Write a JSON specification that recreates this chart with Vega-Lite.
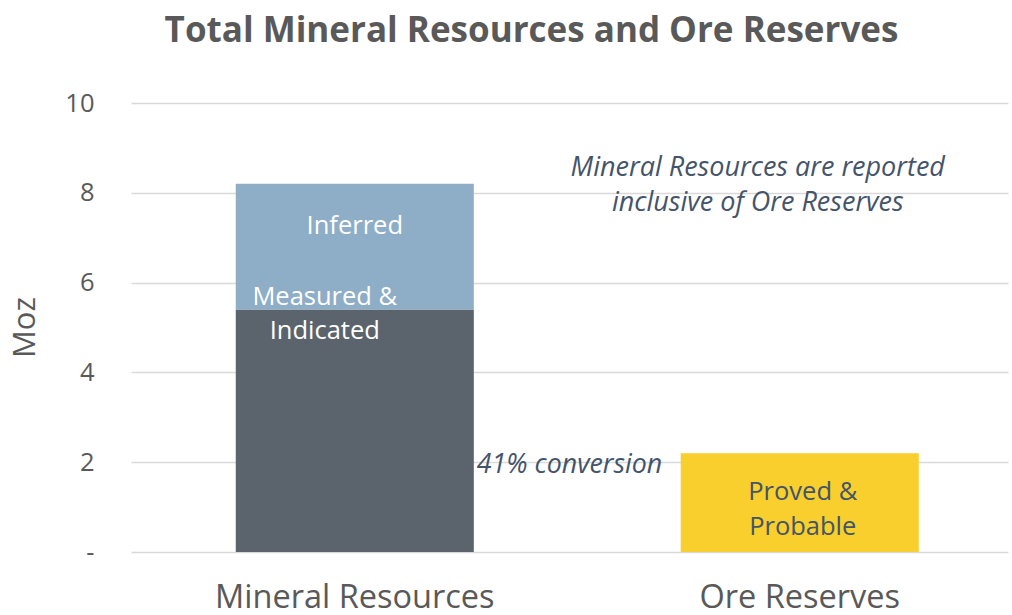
{
  "$schema": "https://vega.github.io/schema/vega-lite/v6.json",
  "width": 877,
  "height": 449,
  "autosize": "none",
  "padding": {"left": 131, "top": 103, "right": 4, "bottom": 63},
  "background": "white",
  "title": {
    "text": "Total Mineral Resources and Ore Reserves",
    "font": "Open Sans",
    "fontSize": 35,
    "fontWeight": "bold",
    "color": "#595959",
    "anchor": "middle",
    "dx": -38,
    "offset": 42
  },
  "config": {
    "view": {"stroke": null},
    "font": "Open Sans"
  },
  "datasets": {
    "bars": [
      {"category": "Mineral Resources", "segment": "Measured & Indicated", "start": 0, "end": 5.4},
      {"category": "Mineral Resources", "segment": "Inferred", "start": 5.4, "end": 8.2},
      {"category": "Ore Reserves", "segment": "Proved & Probable", "start": 0, "end": 2.2}
    ]
  },
  "encoding": {
    "x": {
      "field": "category",
      "type": "nominal",
      "sort": ["Mineral Resources", "Ore Reserves"],
      "scale": {"paddingInner": 0.465, "paddingOuter": 0.218, "align": 0.54},
      "axis": {
        "title": null,
        "labelAngle": 0,
        "labelFont": "Open Sans",
        "labelFontSize": 32.5,
        "labelColor": "#595959",
        "labelPadding": 29,
        "labelLimit": 0,
        "ticks": false,
        "domain": false,
        "grid": false
      }
    }
  },
  "layer": [
    {
      "data": {"name": "bars"},
      "mark": {"type": "bar"},
      "encoding": {
        "y": {
          "field": "start",
          "type": "quantitative",
          "scale": {"domain": [0, 10], "nice": false},
          "axis": {
            "values": [0, 2, 4, 6, 8, 10],
            "labelExpr": "datum.value == 0 ? '-' : datum.label",
            "labelFont": "Open Sans",
            "labelFontSize": 25.5,
            "labelColor": "#595959",
            "labelPadding": 37,
            "ticks": false,
            "domain": false,
            "grid": true,
            "gridColor": "#D9D9D9",
            "gridWidth": 1.5,
            "title": "Moz",
            "titleFont": "Open Sans",
            "titleFontSize": 31,
            "titleFontWeight": "normal",
            "titleColor": "#595959",
            "titleAngle": -90,
            "titleAlign": "center",
            "titleBaseline": "middle",
            "titleX": -106,
            "titleY": 224
          }
        },
        "y2": {"field": "end"},
        "color": {
          "field": "segment",
          "type": "nominal",
          "scale": {
            "domain": ["Measured & Indicated", "Inferred", "Proved & Probable"],
            "range": ["#5B646C", "#8EADC6", "#F8CF2C"]
          },
          "legend": null
        }
      }
    },
    {
      "data": {"values": [{"category": "Mineral Resources", "y": 7.26, "label": "Inferred"}]},
      "mark": {"type": "text", "font": "Open Sans", "fontSize": 25.5, "color": "white", "baseline": "middle"},
      "encoding": {
        "y": {"field": "y", "type": "quantitative"},
        "text": {"field": "label"}
      }
    },
    {
      "data": {"values": [{"category": "Mineral Resources", "y": 5.68, "label": "Measured &\nIndicated"}]},
      "mark": {"type": "text", "font": "Open Sans", "fontSize": 25.5, "color": "white", "baseline": "middle", "lineBreak": "\n", "lineHeight": 34, "dx": -30},
      "encoding": {
        "y": {"field": "y", "type": "quantitative"},
        "text": {"field": "label"}
      }
    },
    {
      "data": {"values": [{"category": "Ore Reserves", "y": 1.34, "label": "Proved &\nProbable"}]},
      "mark": {"type": "text", "font": "Open Sans", "fontSize": 25.5, "color": "#44546A", "baseline": "middle", "lineBreak": "\n", "lineHeight": 35, "dx": 3},
      "encoding": {
        "y": {"field": "y", "type": "quantitative"},
        "text": {"field": "label"}
      }
    },
    {
      "data": {"values": [{"category": "Ore Reserves", "y": 8.55, "label": "Mineral Resources are reported\ninclusive of Ore Reserves"}]},
      "mark": {"type": "text", "font": "Open Sans", "fontSize": 27, "fontStyle": "italic", "color": "#44546A", "baseline": "middle", "lineBreak": "\n", "lineHeight": 35, "dx": -42},
      "encoding": {
        "y": {"field": "y", "type": "quantitative"},
        "text": {"field": "label"}
      }
    },
    {
      "data": {"values": [{"category": "Ore Reserves", "y": 1.94, "label": "41% conversion"}]},
      "mark": {"type": "text", "font": "Open Sans", "fontSize": 26.8, "fontStyle": "italic", "color": "#44546A", "baseline": "middle", "align": "left", "dx": -323},
      "encoding": {
        "y": {"field": "y", "type": "quantitative"},
        "text": {"field": "label"}
      }
    }
  ]
}
